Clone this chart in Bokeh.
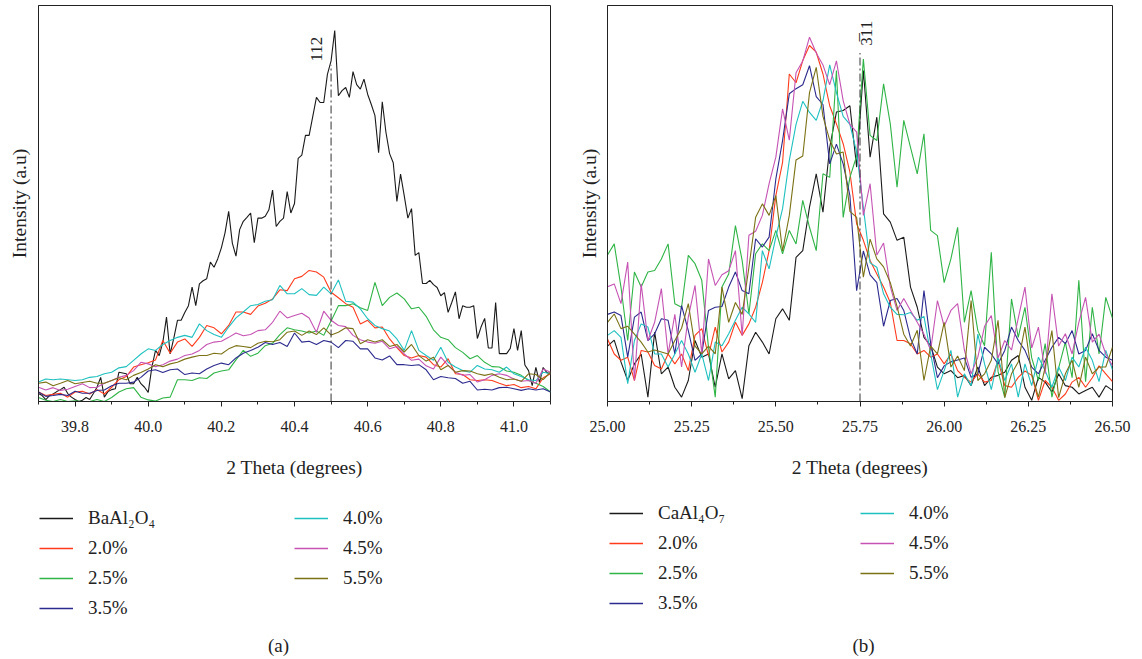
import math
from bokeh.plotting import figure
from bokeh.models import Range1d, FixedTicker, Legend, LegendItem, Label
from bokeh.layouts import row, column
from bokeh.embed import file_html
from bokeh.resources import INLINE

# ---------------- panel (a) data ----------------
theta_a_fine = [
    39.70, 39.71, 39.72, 39.73, 39.74, 39.75, 39.76, 39.77, 39.78, 39.79,
    39.80, 39.81, 39.82, 39.83, 39.84, 39.85, 39.86, 39.87, 39.88, 39.89,
    39.90, 39.91, 39.92, 39.93, 39.94, 39.95, 39.96, 39.97, 39.98, 39.99,
    40.00, 40.01, 40.02, 40.03, 40.04, 40.05, 40.06, 40.07, 40.08, 40.09,
    40.10, 40.11, 40.12, 40.13, 40.14, 40.15, 40.16, 40.17, 40.18, 40.19,
    40.20, 40.21, 40.22, 40.23, 40.24, 40.25, 40.26, 40.27, 40.28, 40.29,
    40.30, 40.31, 40.32, 40.33, 40.34, 40.35, 40.36, 40.37, 40.38, 40.39,
    40.40, 40.41, 40.42, 40.43, 40.44, 40.45, 40.46, 40.47, 40.48, 40.49,
    40.50, 40.51, 40.52, 40.53, 40.54, 40.55, 40.56, 40.57, 40.58, 40.59,
    40.60, 40.61, 40.62, 40.63, 40.64, 40.65, 40.66, 40.67, 40.68, 40.69,
    40.70, 40.71, 40.72, 40.73, 40.74, 40.75, 40.76, 40.77, 40.78, 40.79,
    40.80, 40.81, 40.82, 40.83, 40.84, 40.85, 40.86, 40.87, 40.88, 40.89,
    40.90, 40.91, 40.92, 40.93, 40.94, 40.95, 40.96, 40.97, 40.98, 40.99,
    41.00, 41.01, 41.02, 41.03, 41.04, 41.05, 41.06, 41.07, 41.08, 41.09,
    41.10]

theta_a = [
    39.70, 39.72, 39.74, 39.76, 39.78, 39.80, 39.82, 39.84, 39.86, 39.88,
    39.90, 39.92, 39.94, 39.96, 39.98, 40.00, 40.02, 40.04, 40.06, 40.08,
    40.10, 40.12, 40.14, 40.16, 40.18, 40.20, 40.22, 40.24, 40.26, 40.28,
    40.30, 40.32, 40.34, 40.36, 40.38, 40.40, 40.42, 40.44, 40.46, 40.48,
    40.50, 40.52, 40.54, 40.56, 40.58, 40.60, 40.62, 40.64, 40.66, 40.68,
    40.70, 40.72, 40.74, 40.76, 40.78, 40.80, 40.82, 40.84, 40.86, 40.88,
    40.90, 40.92, 40.94, 40.96, 40.98, 41.00, 41.02, 41.04, 41.06, 41.08,
    41.10]

a_base = [
    2.0, 1.5, 0.5, 1.5, 1.9, 2.5, 3.0, 3.6, 2.0, 1.1,
    0.5, 0.0, 0.3, 1.0, 0.5, 2.0, 3.6, 6.1, 1.1, 2.5,
    3.0, 3.2, 7.4, 7.2, 7.0, 4.5, 4.5, 6.1, 4.5, 3.6,
    2.3, 8.7, 12.9, 11.6, 15.0, 21.3, 12.0, 16.0, 20.5, 20.5,
    22.5, 24.2, 28.9, 24.2, 29.7, 30.5, 31.0, 35.2, 33.9, 36.0,
    38.8, 42.6, 48.0, 40.0, 36.7, 43.4, 45.5, 46.5, 47.6, 40.1,
    46.3, 46.3, 46.8, 48.4, 53.4, 44.2, 45.5, 46.3, 53.0, 47.6,
    50.0, 61.4, 62.2, 67.2, 67.2, 72.0, 76.8, 75.5, 75.5, 82.6,
    86.0, 93.7, 77.2, 78.5, 79.3, 76.8, 83.3, 80.0, 78.9, 81.4,
    77.6, 75.0, 72.2, 62.8, 75.7, 68.0, 62.6, 60.3, 50.5, 57.4,
    52.0, 46.3, 48.7, 36.9, 37.6, 29.8, 29.8, 30.6, 29.5, 28.8,
    26.7, 27.5, 22.5, 25.0, 27.7, 20.9, 24.2, 23.8, 23.8, 24.2,
    15.9, 18.8, 21.0, 13.5, 13.5, 25.0, 12.1, 12.1, 12.1, 13.4,
    18.4, 12.9, 17.9, 9.2, 7.8, 4.0, 8.6, 4.8, 8.6, 7.3,
    7.0]

a_20 = [
    2.4, 1.5, 1.8, 2.1, 1.1, 2.4, 2.6, 1.9, 3.0, 1.9,
    3.6, 5.5, 6.3, 8.7, 9.3, 9.8, 10.5, 15.4, 12.2, 15.0,
    15.8, 13.9, 16.2, 19.2, 18.6, 17.1, 19.2, 22.6, 22.6, 22.0,
    24.1, 24.8, 25.9, 28.2, 28.0, 31.0, 31.6, 33.1, 32.7, 31.4,
    27.6, 26.2, 24.7, 23.8, 19.6, 20.5, 18.6, 18.8, 15.8, 13.6,
    11.6, 11.0, 11.6, 11.2, 9.3, 8.7, 10.8, 7.0, 6.8, 5.5,
    5.3, 5.5, 5.3, 4.6, 4.0, 4.3, 3.5, 3.8, 3.2, 6.0,
    7.0]

a_25 = [
    1.0, 0.3, 0.0, 0.5, 0.0, 0.2, 0.0, 0.0, 0.5, 0.0,
    1.0, 2.4, 3.2, 3.5, 1.1, 0.4, 0.1, 0.9, 1.1, 5.5,
    5.5, 5.3, 6.0, 5.8, 7.2, 7.7, 8.0, 10.5, 12.9, 11.4,
    12.2, 14.1, 14.7, 16.9, 18.6, 18.1, 17.8, 17.3, 17.8, 16.7,
    20.3, 24.2, 24.2, 24.7, 23.7, 23.0, 30.1, 24.2, 26.3, 27.4,
    25.9, 23.4, 23.8, 21.5, 18.1, 16.2, 15.6, 13.6, 12.4, 10.8,
    11.6, 9.9, 8.8, 8.7, 7.7, 7.4, 6.6, 5.3, 4.6, 3.8,
    2.4]

a_35 = [
    2.4, 1.3, 1.5, 1.8, 1.5, 2.6, 2.1, 2.1, 2.8, 2.9,
    4.0, 4.6, 4.6, 4.9, 6.1, 7.7, 8.0, 7.3, 8.0, 8.2,
    6.8, 7.2, 7.0, 8.2, 9.1, 9.7, 9.3, 11.0, 12.2, 12.9,
    13.7, 14.9, 14.4, 14.9, 13.9, 17.3, 15.0, 15.2, 14.4, 15.4,
    15.0, 13.6, 15.4, 15.2, 13.3, 13.3, 11.0, 10.5, 11.5, 9.3,
    9.3, 9.1, 9.3, 8.0, 5.5, 6.3, 6.0, 5.8, 4.6, 5.1,
    2.9, 3.1, 2.9, 3.5, 3.6, 3.2, 2.8, 3.2, 2.9, 3.2,
    2.4]

a_40 = [
    4.9, 5.7, 5.5, 5.7, 5.5, 5.3, 5.5, 6.1, 6.3, 7.0,
    7.4, 8.5, 8.8, 10.4, 12.0, 13.3, 12.9, 14.4, 15.4, 16.2,
    16.7, 16.2, 19.6, 17.9, 16.9, 16.2, 18.8, 21.1, 22.6, 24.2,
    24.5, 25.3, 25.7, 29.3, 27.2, 27.2, 28.5, 27.0, 26.8, 28.9,
    27.2, 30.7, 25.3, 25.1, 23.4, 20.9, 19.2, 18.4, 17.8, 15.8,
    12.9, 17.9, 12.9, 11.6, 10.4, 13.7, 9.9, 8.7, 7.8, 7.4,
    9.1, 8.2, 8.0, 7.4, 8.7, 7.0, 6.3, 5.5, 5.3, 7.4,
    7.0]

a_45 = [
    3.6, 2.9, 3.5, 2.8, 3.1, 3.8, 4.5, 3.5, 3.6, 4.6,
    5.3, 6.1, 6.6, 7.8, 9.9, 9.5, 8.8, 9.3, 10.2, 10.7,
    11.6, 12.0, 12.9, 14.4, 15.0, 15.2, 16.2, 17.3, 16.6, 16.9,
    17.9, 18.1, 20.0, 22.8, 21.1, 21.7, 22.3, 21.1, 17.5, 22.8,
    20.5, 19.2, 18.9, 16.7, 15.6, 15.0, 14.7, 15.2, 13.3, 13.9,
    12.0, 10.4, 10.7, 9.0, 8.2, 11.2, 9.1, 7.4, 6.6, 6.8,
    4.9, 5.5, 6.6, 7.0, 6.6, 5.7, 5.1, 5.3, 4.6, 8.2,
    7.4]

a_55 = [
    4.6, 4.9, 4.0, 4.6, 5.3, 4.5, 4.8, 5.1, 4.6, 4.6,
    5.3, 6.0, 5.5, 6.6, 7.3, 8.2, 9.3, 8.8, 9.5, 9.9,
    10.7, 11.2, 11.6, 11.6, 12.2, 12.0, 13.3, 14.1, 13.9, 13.6,
    14.7, 15.2, 15.1, 15.6, 17.5, 17.8, 16.7, 17.8, 16.9, 18.6,
    16.8, 17.5, 18.6, 18.4, 14.6, 15.6, 15.0, 15.6, 13.9, 14.4,
    12.5, 14.4, 11.6, 10.2, 11.2, 8.0, 9.1, 7.4, 7.8, 7.7,
    7.0, 6.6, 7.0, 6.1, 5.5, 5.7, 5.1, 7.0, 6.8, 5.5,
    7.4]

# ---------------- panel (b) data ----------------
theta_b = [
    25.00, 25.02, 25.04, 25.06, 25.08, 25.10, 25.12, 25.14, 25.16, 25.18,
    25.20, 25.22, 25.24, 25.26, 25.28, 25.30, 25.32, 25.34, 25.36, 25.38,
    25.40, 25.42, 25.44, 25.46, 25.48, 25.50, 25.52, 25.54, 25.56, 25.58,
    25.60, 25.62, 25.64, 25.66, 25.68, 25.70, 25.72, 25.74, 25.76, 25.78,
    25.80, 25.82, 25.84, 25.86, 25.88, 25.90, 25.92, 25.94, 25.96, 25.98,
    26.00, 26.02, 26.04, 26.06, 26.08, 26.10, 26.12, 26.14, 26.16, 26.18,
    26.20, 26.22, 26.24, 26.26, 26.28, 26.30, 26.32, 26.34, 26.36, 26.38,
    26.40, 26.42, 26.44, 26.46, 26.48, 26.50]

b_base = [
    14.0, 15.5, 10.0, 5.3, 9.5, 12.0, 1.1, 17.5, 7.0, 8.7,
    3.6, 1.1, 5.3, 15.4, 11.2, 12.0, 3.6, 12.0, 5.7, 7.8,
    0.7, 14.1, 17.5, 15.0, 12.0, 20.9, 23.4, 20.5, 36.4, 38.1,
    49.1, 57.5, 47.8, 64.2, 73.1, 73.5, 74.7, 59.2, 83.6, 61.7,
    71.8, 47.4, 45.3, 40.7, 41.5, 28.9, 23.8, 16.2, 14.1, 8.7,
    7.0, 7.8, 6.0, 6.6, 4.0, 8.7, 4.0, 6.1, 6.6, 7.4,
    10.4, 11.6, 3.6, 0.3, 6.1, 4.9, 2.4, 7.0, 4.0, 3.6,
    1.9, 2.8, 3.6, 1.1, 4.0, 2.8]

b_20 = [
    15.8, 12.0, 10.4, 11.2, 5.3, 12.9, 12.5, 9.1, 8.2, 12.0,
    9.5, 12.0, 7.8, 16.7, 18.4, 11.6, 18.8, 12.5, 15.0, 20.0,
    16.7, 19.6, 23.8, 30.1, 38.1, 52.0, 60.4, 82.7, 80.5, 86.1,
    89.9, 88.2, 82.7, 74.7, 70.1, 65.1, 57.9, 44.9, 40.7, 35.6,
    32.2, 28.9, 25.0, 15.4, 15.4, 14.6, 12.0, 12.9, 11.2, 12.0,
    9.5, 12.0, 7.8, 6.1, 4.9, 7.0, 4.9, 5.3, 10.4, 4.0,
    3.6, 6.1, 7.7, 6.6, 0.3, 5.3, 3.6, 0.3, 1.9, 4.9,
    6.1, 3.6, 6.0, 9.0, 7.0, 5.0]

b_25 = [
    37.0, 39.8, 28.9, 15.4, 32.7, 28.9, 32.7, 33.1, 36.0, 39.8,
    24.7, 23.8, 36.9, 34.8, 30.6, 13.7, 1.1, 28.9, 32.2, 44.4,
    35.6, 22.1, 37.3, 39.8, 38.1, 43.2, 37.3, 43.2, 39.8, 50.8,
    44.0, 38.1, 57.5, 56.6, 83.6, 46.5, 56.6, 62.0, 86.5, 67.2,
    65.9, 80.2, 70.1, 54.1, 71.0, 64.2, 57.5, 67.6, 43.2, 41.9,
    30.0, 36.0, 44.0, 20.0, 28.0, 17.9, 14.1, 37.7, 7.6, 1.0,
    25.9, 16.2, 23.8, 11.0, 5.3, 14.6, 1.1, 8.5, 15.0, 6.0,
    30.6, 5.0, 23.8, 12.0, 26.3, 21.0]

b_35 = [
    22.0, 22.6, 21.7, 11.2, 21.3, 22.6, 15.4, 17.1, 20.9, 20.5,
    12.0, 24.2, 17.9, 10.4, 12.0, 23.0, 23.8, 24.0, 28.9, 32.7,
    28.0, 27.2, 41.1, 39.0, 41.5, 56.2, 65.9, 77.7, 79.0, 80.0,
    84.8, 77.0, 75.0, 60.0, 65.0, 60.0, 52.0, 28.0, 38.0, 32.0,
    30.0, 19.0, 25.5, 26.0, 23.0, 16.0, 12.0, 28.0, 14.6, 6.0,
    9.0, 10.0, 10.5, 11.0, 6.1, 7.0, 13.7, 12.0, 9.5, 12.9,
    18.8, 15.4, 12.9, 8.7, 7.0, 10.4, 13.7, 16.2, 14.6, 17.9,
    12.0, 12.9, 17.1, 12.9, 11.2, 10.4]

b_40 = [
    16.7, 17.9, 16.2, 4.5, 15.4, 19.6, 18.8, 12.0, 12.0, 8.7,
    12.0, 15.4, 12.0, 7.4, 12.0, 5.3, 15.0, 14.1, 17.1, 20.5,
    23.8, 22.1, 20.0, 38.1, 33.5, 41.5, 48.7, 60.9, 70.0, 75.8,
    73.0, 71.0, 76.0, 85.0, 78.0, 72.0, 70.0, 63.0, 49.0, 35.0,
    33.9, 27.2, 23.8, 22.0, 21.9, 22.5, 20.5, 21.5, 12.0, 3.0,
    7.8, 12.9, 1.1, 7.0, 4.0, 17.0, 9.5, 3.0, 11.0, 5.3,
    9.5, 1.1, 9.5, 4.0, 11.2, 7.8, 3.6, 8.7, 5.3, 11.2,
    8.7, 13.7, 10.4, 5.0, 12.9, 8.0]

b_45 = [
    29.0, 29.7, 24.7, 35.2, 5.3, 29.7, 15.4, 20.0, 28.5, 12.0,
    22.0, 8.7, 21.3, 29.3, 12.0, 36.0, 29.3, 32.0, 33.0, 38.1,
    16.7, 42.0, 43.0, 47.0, 55.0, 61.7, 73.9, 66.0, 83.0, 86.0,
    92.0, 88.0, 85.0, 80.0, 86.0, 76.0, 70.0, 68.0, 47.0, 55.0,
    37.0, 40.0, 29.0, 23.0, 26.0, 23.0, 20.0, 17.0, 13.0, 25.5,
    19.0, 23.0, 24.7, 13.0, 7.0, 11.2, 19.0, 21.7, 11.0, 15.4,
    13.0, 21.0, 28.9, 13.5, 18.8, 7.0, 27.2, 14.0, 17.1, 12.0,
    20.0, 26.3, 15.0, 17.0, 12.0, 9.0]

b_55 = [
    20.0, 22.1, 18.4, 19.0, 17.0, 15.0, 12.5, 13.0, 12.5, 12.0,
    15.4, 18.5, 24.7, 14.0, 12.0, 14.0, 12.0, 28.9, 20.0, 25.0,
    22.0, 33.9, 46.5, 49.9, 47.0, 52.0, 38.0, 47.0, 61.0, 62.0,
    78.0, 84.4, 72.0, 66.0, 62.5, 63.0, 48.0, 46.5, 31.4, 41.0,
    36.0, 34.0, 30.0, 24.0, 17.0, 14.0, 18.0, 5.3, 14.0, 12.0,
    20.0, 8.7, 11.5, 7.8, 25.5, 5.3, 7.0, 10.4, 20.5, 1.0,
    7.0, 10.0, 18.8, 7.0, 1.1, 8.7, 17.9, 1.0, 7.0, 10.4,
    3.6, 11.2, 7.0, 8.7, 8.7, 13.7]

# ---------------- labels / ticks ----------------
labels_a = ["BaAl\u2082O\u2084", "2.0%", "2.5%", "3.5%", "4.0%", "4.5%", "5.5%"]
labels_b = ["CaAl\u2084O\u2087", "2.0%", "2.5%", "3.5%", "4.0%", "4.5%", "5.5%"]
ticks_a = [39.8, 40.0, 40.2, 40.4, 40.6, 40.8, 41.0]
tick_labels_a = ["39.8", "40.0", "40.2", "40.4", "40.6", "40.8", "41.0"]
minor_a = [39.7, 39.9, 40.1, 40.3, 40.5, 40.7, 40.9, 41.1]
ticks_b = [25.0, 25.25, 25.5, 25.75, 26.0, 26.25, 26.5]
tick_labels_b = ["25.00", "25.25", "25.50", "25.75", "26.00", "26.25", "26.50"]
minor_b = [25.125, 25.375, 25.625, 25.875, 26.125, 26.375]
peak_a, peak_label_a = 40.5, "112"
peak_b, peak_label_b = 25.75, "3\u030511"
captions = ["(a)", "(b)"]

colors = ["#1a1a1a", "#ff3b1c", "#2fb446", "#2c2a8e", "#1fc0c0", "#c653b4", "#7b7216"]
FONT = "Liberation Serif"
INK = "#222222"

TOP_H = 490          # height of the plot row
LEG_H = 169          # height of the legend / caption row
FRAME_TOP = 5
FRAME_H = 396


def make_panel(xr, ticks, tick_labels, minor, width, left, right, ylab_standoff):
    p = figure(width=width, height=TOP_H, x_range=Range1d(*xr), y_range=Range1d(0, 100),
               output_backend="svg", toolbar_location=None,
               min_border_left=left, min_border_right=right,
               min_border_top=FRAME_TOP, min_border_bottom=TOP_H - FRAME_TOP - FRAME_H)
    p.background_fill_color = "white"
    p.border_fill_color = "white"
    p.outline_line_color = INK
    p.outline_line_width = 1
    p.xgrid.visible = False
    p.ygrid.visible = False
    xa = p.xaxis[0]
    xa.ticker = FixedTicker(ticks=ticks, minor_ticks=minor)
    xa.major_label_overrides = {t: s for t, s in zip(ticks, tick_labels)}
    xa.major_tick_in = 0
    xa.major_tick_out = 5
    xa.minor_tick_in = 0
    xa.minor_tick_out = 3
    xa.axis_line_color = INK
    xa.major_tick_line_color = INK
    xa.minor_tick_line_color = INK
    xa.major_label_text_font = FONT
    xa.major_label_text_font_size = "16px"
    xa.major_label_text_color = INK
    xa.major_label_standoff = 14
    xa.axis_label = "2 Theta (degrees)"
    xa.axis_label_text_font = FONT
    xa.axis_label_text_font_size = "19.5px"
    xa.axis_label_text_font_style = "normal"
    xa.axis_label_text_color = INK
    xa.axis_label_standoff = 22
    ya = p.yaxis[0]
    ya.ticker = FixedTicker(ticks=[])
    ya.major_tick_in = 0
    ya.major_tick_out = 0
    ya.minor_tick_in = 0
    ya.minor_tick_out = 0
    ya.major_label_standoff = 0
    ya.axis_line_color = INK
    ya.axis_label = "Intensity (a.u)"
    ya.axis_label_text_font = FONT
    ya.axis_label_text_font_size = "19.5px"
    ya.axis_label_text_font_style = "normal"
    ya.axis_label_text_color = INK
    ya.axis_label_standoff = ylab_standoff
    return p


def make_legend_fig(width):
    q = figure(width=width, height=LEG_H, x_range=Range1d(0, width), y_range=Range1d(0, LEG_H),
               output_backend="svg", toolbar_location=None,
               x_axis_location=None, y_axis_location=None,
               min_border_left=0, min_border_right=0, min_border_top=0, min_border_bottom=0)
    q.outline_line_color = None
    q.xgrid.visible = False
    q.ygrid.visible = False
    q.background_fill_color = "white"
    q.border_fill_color = "white"
    return q


def add_series(p, xs_list, ys_list):
    for xs, ys, c in zip(xs_list, ys_list, colors):
        p.line(xs, ys, line_color=c, line_width=1.1)


def add_legends(q, labels, loc1, loc2):
    # legend swatches: renderers with a single missing (NaN) point, so they draw
    # nothing themselves but carry each series' line style for the legend
    nan = float("nan")
    rs = [q.line(x=[nan], y=[nan], line_color=c, line_width=1.4) for c in colors]
    items = [LegendItem(label=l, renderers=[r]) for l, r in zip(labels, rs)]
    for its, loc in ((items[:4], loc1), (items[4:], loc2)):
        lg = Legend(items=its, location=loc, orientation="vertical",
                    glyph_width=34, glyph_height=22, label_height=22,
                    label_standoff=15, spacing=8, padding=0, margin=0,
                    border_line_color=None, background_fill_alpha=0,
                    label_text_font=FONT, label_text_font_size="19px",
                    label_text_color=INK)
        q.add_layout(lg, "center")


# panel (a)
pa = make_panel((39.7, 41.1), ticks_a, tick_labels_a, minor_a, 575, 38, 25, 9)
add_series(pa, [theta_a_fine] + [theta_a] * 6,
           [a_base, a_20, a_25, a_35, a_40, a_45, a_55])
pa.segment(x0=[peak_a], y0=[0], x1=[peak_a], y1=[85], line_color="#333333",
           line_width=1, line_dash="8 3 2 3")
pa.add_layout(Label(x=peak_a - 0.04, y=89, text=peak_label_a, angle=math.pi / 2,
                    text_align="center", text_baseline="middle", text_font=FONT,
                    text_font_size="17px", text_color=INK))

# panel (b)
pb = make_panel((25.0, 26.5), ticks_b, tick_labels_b, minor_b, 567, 32, 30, 8)
add_series(pb, [theta_b] * 7, [b_base, b_20, b_25, b_35, b_40, b_45, b_55])
pb.segment(x0=[peak_b], y0=[0], x1=[peak_b], y1=[88], line_color="#333333",
           line_width=1, line_dash="8 3 2 3")
pb.add_layout(Label(x=peak_b + 0.018, y=93, text=peak_label_b, angle=math.pi / 2,
                    text_align="center", text_baseline="middle", text_font=FONT,
                    text_font_size="17px", text_color=INK))

# legend / caption rows (pixel coordinates inside each strip)
la = make_legend_fig(575)
add_legends(la, labels_a, (39, 40), (294, 70))
la.add_layout(Label(x=278, y=14, text=captions[0], text_align="center",
                    text_baseline="middle", text_font=FONT, text_font_size="19px",
                    text_color=INK))

lb = make_legend_fig(567)
add_legends(lb, labels_b, (34, 45), (285, 75))
lb.add_layout(Label(x=288, y=14, text=captions[1], text_align="center",
                    text_baseline="middle", text_font=FONT, text_font_size="19px",
                    text_color=INK))

layout = column(row(pa, pb), row(la, lb))
open("out.html", "w").write(file_html(layout, INLINE))
